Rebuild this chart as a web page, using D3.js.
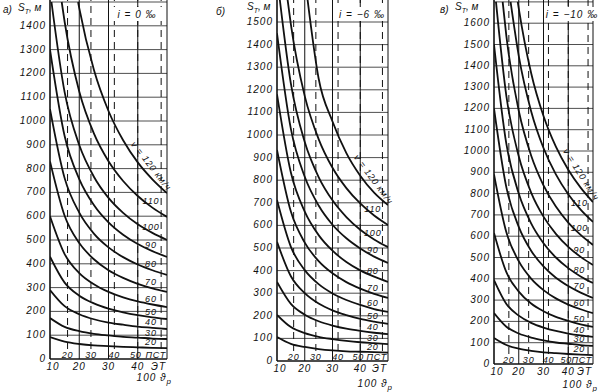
<!DOCTYPE html>
<meta charset="utf-8">
<head>
<script src="https://cdn.jsdelivr.net/npm/d3@7"></script>
<style>
  body { margin: 0; background: #fff; }
  text { font-family: "Liberation Sans", sans-serif; font-style: italic; font-size: 10px; fill: #111; }
  .tick { letter-spacing: 1px; }
  .curve-label { font-size: 9px; letter-spacing: 0.8px; }
</style>
</head>
<body>
<svg id="svg" width="600" height="392"></svg>
</body>
<script>
// speeds of the curve family, km/h
var speeds = [20, 30, 40, 50, 60, 70, 80, 90, 100, 110, 120];
// 100·ϑp at which the curves are read
var thetaGrid = [10, 15, 20, 25, 30, 35, 40, 45, 50];
var thetaTicks = [10, 20, 30, 40, 50];
var thetaLabels = ["10", "20", "30", "40", "ЭТ"];
var pstTicks = [16, 24, 32, 40, 48];
var pstLabels = ["20", "30", "40", "50", "ПСТ"];
var panelLetters = ["а)", "б)", "в)"];
var grades = ["i = 0 ‰", "i = −6 ‰", "i = −10 ‰"];
var yTops = [1500, 1600, 1700];

// S_T, m, one row per speed; null = above the frame
var distA = [
  [92, 73, 63, 57, 54, 51, 49, 47, 46],
  [172, 135, 117, 106, 99, 93, 90, 86, 84],
  [290, 222, 188, 167, 153, 144, 136, 131, 126],
  [430, 321, 266, 234, 212, 196, 184, 175, 168],
  [600, 441, 361, 314, 282, 259, 242, 229, 218],
  [830, 602, 487, 419, 373, 341, 316, 297, 282],
  [1050, 760, 615, 527, 469, 428, 397, 373, 353],
  [1300, 937, 756, 647, 574, 522, 483, 453, 429],
  [null, 1121, 899, 766, 677, 614, 566, 530, 500],
  [null, 1417, 1124, 948, 831, 748, 685, 636, 597],
  [null, null, 1474, 1215, 1042, 919, 826, 755, 697]
];
var distB = [
  [106, 76, 62, 53, 47, 43, 41, 39, 37],
  [204, 150, 123, 107, 97, 89, 83, 79, 75],
  [350, 253, 205, 176, 157, 143, 133, 125, 119],
  [527, 375, 300, 254, 224, 203, 186, 174, 164],
  [712, 505, 402, 340, 299, 270, 248, 230, 217],
  [934, 661, 524, 442, 388, 349, 320, 297, 279],
  [1180, 834, 661, 557, 488, 438, 401, 373, 350],
  [1450, 1027, 815, 688, 603, 543, 498, 462, 434],
  [null, 1227, 969, 814, 711, 637, 581, 538, 504],
  [null, 1489, 1172, 982, 855, 765, 697, 644, 602],
  [null, null, null, 1250, 1060, 920, 820, 745, 690]
];
var distC = [
  [122, 89, 72, 62, 55, 51, 47, 44, 42],
  [239, 175, 143, 124, 111, 101, 95, 89, 85],
  [394, 282, 227, 193, 171, 155, 143, 134, 127],
  [615, 431, 340, 284, 248, 221, 202, 186, 174],
  [890, 618, 483, 401, 347, 308, 279, 257, 239],
  [1200, 829, 644, 532, 458, 405, 366, 335, 310],
  [1500, 1033, 800, 660, 567, 500, 450, 411, 380],
  [null, 1258, 975, 805, 692, 611, 550, 503, 465],
  [null, 1539, 1189, 979, 839, 739, 664, 606, 559],
  [null, null, 1447, 1187, 1014, 890, 797, 725, 667],
  [null, null, 1670, 1366, 1164, 1020, 912, 828, 760]
];
// 100·ϑp where a curve leaves the top of the frame
var entryA = [null, null, null, null, null, null, null, null, 10.5, 14, 19.6];
var entryB = [null, null, null, null, null, null, null, null, 11, 13.8, 21];
var entryC = [null, null, null, null, null, null, null, 10.8, 13.5, 16.7, 19.6];

var dists = [distA, distB, distC];
var entries = [entryA, entryB, entryC];

// frame of each panel on the page
var frames = [
  { x0: 50, x1: 167, yZero: 359, per100: 23.8, letterX: 3, letterY: 13, sX: 18, sY: 11, gradeX: 137, tickY: 370, unitY: 381 },
  { x0: 277, x1: 388, yZero: 361, per100: 22.6, letterX: 216, letterY: 15, sX: 247, sY: 10, gradeX: 362, tickY: 372, unitY: 387 },
  { x0: 494, x1: 593, yZero: 364, per100: 21.3, letterX: 440, letterY: 13, sX: 455, sY: 10, gradeX: 572, tickY: 375, unitY: 388 }
];

var svg = d3.select("#svg");

frames.forEach(function (f, p) {
  var x = d3.scaleLinear().domain([10, 50]).range([f.x0, f.x1]);
  var yTopPx = f.yZero - yTops[p] / 100 * f.per100;
  var y = d3.scaleLinear().domain([0, yTops[p]]).range([f.yZero, yTopPx]);
  var g = svg.append("g");

  g.append("clipPath").attr("id", "clip" + p)
    .append("rect").attr("x", f.x0).attr("y", 0)
    .attr("width", f.x1 - f.x0).attr("height", f.yZero);

  // horizontal grid
  g.selectAll(".hg").data(d3.range(100, yTops[p] + 1, 100)).enter()
    .append("line")
    .attr("x1", f.x0).attr("x2", f.x1)
    .attr("y1", d => y(d)).attr("y2", d => y(d))
    .attr("stroke", "#222").attr("stroke-width", 0.8);

  // solid verticals
  g.selectAll(".vg").data(thetaTicks).enter()
    .append("line")
    .attr("x1", d => x(d)).attr("x2", d => x(d))
    .attr("y1", f.yZero).attr("y2", 0)
    .attr("stroke", "#111")
    .attr("stroke-width", d => (d === 10 ? 1.6 : 1));

  // dashed verticals (ПСТ scale)
  g.selectAll(".pg").data(pstTicks).enter()
    .append("line")
    .attr("x1", d => x(d)).attr("x2", d => x(d))
    .attr("y1", f.yZero - 10).attr("y2", 0)
    .attr("stroke", "#111").attr("stroke-width", 1)
    .attr("stroke-dasharray", "7,5");

  // bottom axis line
  g.append("line")
    .attr("x1", f.x0).attr("x2", f.x1)
    .attr("y1", f.yZero).attr("y2", f.yZero)
    .attr("stroke", "#111").attr("stroke-width", 1.6);

  // curves
  var line = d3.line()
    .x(d => x(d[0])).y(d => y(d[1]))
    .curve(d3.curveMonotoneX);

  var curveData = dists[p].map(function (row, k) {
    var pts = [];
    if (entries[p][k] !== null) pts.push([entries[p][k], yTops[p]]);
    row.forEach(function (v, j) { if (v !== null) pts.push([thetaGrid[j], v]); });
    return pts;
  });

  g.append("g").attr("clip-path", "url(#clip" + p + ")")
    .selectAll("path").data(curveData).enter()
    .append("path")
    .attr("d", line)
    .attr("fill", "none")
    .attr("stroke", "#111")
    .attr("stroke-width", 1.8);

  // value of a curve at ϑ, read between its points
  function at(pts, t) {
    for (var j = 1; j < pts.length; j++) {
      if (pts[j][0] >= t) {
        var a = pts[j - 1], b = pts[j];
        return a[1] + (b[1] - a[1]) * (t - a[0]) / (b[0] - a[0]);
      }
    }
    return pts[pts.length - 1][1];
  }

  // speed labels near the right edge
  curveData.forEach(function (pts, k) {
    if (speeds[k] === 120) {
      var t0 = 36, t1 = 46, tc = 42.5;
      var dx = x(t1) - x(t0), dy = y(at(pts, t1)) - y(at(pts, t0));
      var ang = Math.atan2(dy, dx);
      var cx = x(tc) + 8 * Math.sin(ang), cy = y(at(pts, tc)) - 8 * Math.cos(ang);
      g.append("text")
        .attr("class", "curve-label")
        .attr("transform", "translate(" + cx + "," + cy + ") rotate(" + (ang * 180 / Math.PI) + ")")
        .attr("text-anchor", "middle")
        .attr("dy", "0.35em")
        .text("v = " + speeds[k] + " км/ч");
    } else {
      g.append("text")
        .attr("class", "curve-label")
        .attr("x", x(44.5)).attr("y", y(at(pts, 44.5)) - 2.5)
        .attr("text-anchor", "middle")
        .text(speeds[k]);
    }
  });

  // y tick labels
  g.selectAll(".yl").data(d3.range(0, yTops[p], 100)).enter()
    .append("text")
    .attr("class", "tick")
    .attr("x", f.x0 - 4).attr("y", d => y(d) + 3)
    .attr("text-anchor", "end")
    .text(d => d);

  // bottom tick labels
  g.selectAll(".xl").data(thetaTicks).enter()
    .append("text")
    .attr("class", "tick")
    .attr("x", (d, i) => (i === 0 ? x(d) + 3 : i === thetaTicks.length - 1 ? x(d) - 1 : x(d)))
    .attr("y", f.tickY)
    .attr("text-anchor", (d, i) => (i === thetaTicks.length - 1 ? "end" : "middle"))
    .text((d, i) => thetaLabels[i]);

  g.selectAll(".pl").data(pstTicks).enter()
    .append("text")
    .attr("class", "curve-label")
    .attr("x", (d, i) => (i === pstTicks.length - 1 ? f.x1 - 1 : x(d) - (i === 3 ? 2 : 0)))
    .attr("y", f.yZero - 1)
    .attr("text-anchor", (d, i) => (i === pstTicks.length - 1 ? "end" : "middle"))
    .text((d, i) => pstLabels[i]);

  var u = g.append("text")
    .attr("x", f.x1 + 5).attr("y", f.unitY)
    .attr("text-anchor", "end")
    .attr("class", "tick");
  u.append("tspan").text("100 ϑ");
  u.append("tspan").attr("dy", 3).attr("font-size", "8px").text("р");

  // titles
  g.append("text").attr("x", f.letterX).attr("y", f.letterY)
    .attr("font-size", "11px").text(panelLetters[p]);
  var s = g.append("text").attr("x", f.sX).attr("y", f.sY).attr("font-size", "11px");
  s.append("tspan").text("S");
  s.append("tspan").attr("dy", 3).attr("font-size", "7px").text("Т");
  s.append("tspan").attr("dy", -3).text(", м");

  var gl = g.append("g");
  gl.append("rect").attr("x", f.gradeX - 25).attr("y", 7)
    .attr("width", 50).attr("height", 14).attr("fill", "#fff");
  gl.append("text").attr("x", f.gradeX).attr("y", 18)
    .attr("text-anchor", "middle").attr("class", "tick")
    .text(grades[p]);
});
</script>
